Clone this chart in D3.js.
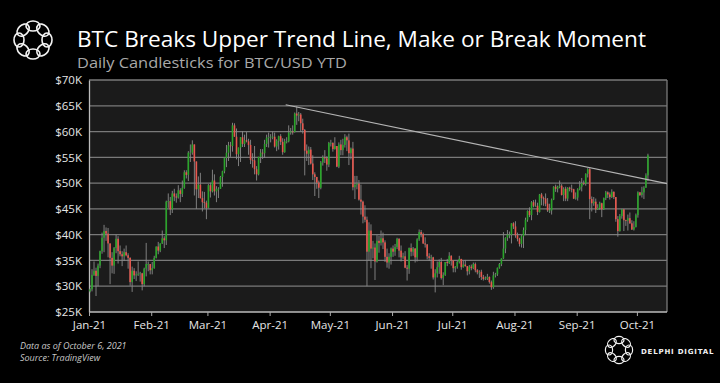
<!DOCTYPE html>
<html><head><meta charset="utf-8">
<script src="https://cdn.jsdelivr.net/npm/d3@7"></script>
<style>html,body{margin:0;padding:0;background:#000;}svg{display:block;}</style>
</head><body>
<script>
// ---- DATA (values in $K) ----
const startDate = "2021-01-01";
const open = [
29.0,29.4,32.2,33.0,32.0,34.0,36.8,39.4,40.7,40.2,38.3,35.5,34.0,37.4,39.2,36.8,36.2,35.8,36.6,36.0,35.5,30.8,33.0,32.1,32.3,32.4,32.5,30.4,33.4,34.3,34.3,
33.1,33.5,35.5,37.7,36.9,38.3,39.3,38.9,46.4,46.5,44.9,48.0,47.4,47.2,48.6,47.9,49.1,52.1,51.6,55.9,55.9,57.5,54.2,48.8,49.7,47.1,46.3,46.2,
45.2,49.6,48.4,50.5,48.4,48.9,48.9,51.2,52.3,54.9,55.9,57.3,57.2,61.2,59.0,55.6,56.9,58.9,57.6,58.3,58.1,57.4,54.5,54.4,52.7,51.7,55.1,55.9,55.8,57.6,58.8,
58.9,59.0,59.0,57.1,58.2,59.1,58.0,56.0,58.1,58.1,59.8,60.0,59.9,63.5,63.1,63.3,61.6,60.3,56.3,55.7,56.5,53.8,51.7,51.2,50.1,49.1,54.0,55.0,54.8,53.6,
57.8,57.8,56.6,57.2,53.2,57.5,56.4,57.4,58.9,58.3,55.8,56.7,49.2,49.7,49.9,46.8,46.4,43.5,42.9,36.7,40.8,37.3,37.5,34.8,38.8,38.4,39.3,38.5,35.7,34.6,35.7,
37.3,36.7,37.6,39.2,36.9,35.6,35.8,33.6,33.4,37.4,36.7,37.3,35.6,39.1,40.5,40.1,38.3,38.1,35.8,35.5,35.6,31.7,32.5,33.7,34.7,31.6,32.2,34.7,34.5,35.9,
35.0,33.5,33.8,34.7,35.3,33.7,34.2,33.9,32.9,33.8,33.5,34.3,33.1,32.7,32.8,31.8,31.4,31.5,31.8,30.8,29.8,32.1,32.3,33.6,34.3,35.4,37.3,39.4,40.0,40.0,42.2,
41.6,39.9,39.2,38.2,39.7,40.9,42.9,44.6,43.8,46.3,45.6,45.6,44.4,47.8,47.1,47.0,46.0,44.7,44.7,46.8,49.3,48.9,49.3,49.5,47.7,48.9,47.0,49.1,48.9,48.8,47.0,
47.2,48.8,49.3,50.0,49.9,51.8,52.7,46.9,46.1,46.4,44.9,45.2,46.1,44.9,47.1,48.2,47.8,47.3,48.3,47.3,43.0,40.7,43.6,44.9,42.8,42.7,43.2,42.2,41.0,41.5,
43.8,48.2,47.7,48.2,49.1,51.5];
const high = [
29.6,33.3,34.8,33.6,34.4,36.9,40.4,41.9,41.4,41.3,38.3,36.6,37.6,40.0,39.7,37.9,36.8,37.3,37.9,36.4,35.6,33.8,33.5,32.9,34.8,32.8,32.6,33.6,38.4,34.8,34.3,
34.7,35.9,37.7,38.6,38.3,40.8,39.7,46.6,48.0,47.3,48.5,48.9,48.0,49.6,49.0,50.5,52.5,52.5,56.2,57.5,58.3,57.5,54.2,51.3,52.0,48.4,48.3,46.6,
49.8,50.1,52.6,51.7,49.4,49.2,51.4,52.4,54.9,57.4,58.0,58.0,61.7,61.6,60.6,56.9,58.9,60.1,59.4,59.9,58.6,58.4,55.8,57.2,53.3,55.1,56.6,56.6,58.4,59.4,59.8,
59.5,60.0,59.8,58.5,59.2,59.5,58.7,58.6,58.9,61.2,60.7,61.2,63.7,64.9,63.8,63.6,62.5,60.5,57.5,57.1,57.0,55.4,52.1,51.2,50.5,54.3,55.4,56.4,55.2,58.0,
58.4,57.9,58.9,57.2,57.9,58.4,58.6,59.5,59.2,59.6,56.9,58.0,51.4,51.4,50.6,49.7,46.6,45.7,43.5,42.4,42.0,38.8,38.3,39.9,39.8,40.8,40.4,38.9,37.3,36.4,37.5,
37.9,38.2,39.4,39.3,37.9,36.5,36.8,34.1,37.5,38.3,37.6,37.4,39.3,41.0,40.9,40.4,39.5,38.2,36.4,36.1,35.7,33.3,34.8,35.2,35.5,32.7,34.7,35.3,36.6,36.0,
35.0,33.9,34.9,35.9,35.3,35.0,35.1,33.9,34.1,34.2,34.6,34.6,33.3,33.1,33.2,32.2,31.9,32.4,31.9,31.1,32.8,32.6,33.6,34.5,35.4,40.5,39.5,40.9,40.6,42.2,42.4,
42.6,40.4,39.4,39.9,41.4,43.3,44.7,45.3,46.5,46.7,46.8,46.2,47.9,48.1,47.4,48.0,47.1,46.0,47.0,49.4,49.7,49.5,50.5,49.8,49.2,49.3,49.2,49.3,49.7,48.9,48.2,
49.0,50.4,51.0,50.5,51.9,52.9,52.9,47.4,47.3,47.0,45.9,46.4,46.2,47.2,48.5,48.4,48.2,48.8,48.4,47.3,43.6,44.0,45.0,45.0,42.9,43.9,44.3,42.8,42.6,44.1,
48.4,48.3,49.3,49.4,51.9,55.7];
const low = [
28.8,29.0,32.0,28.1,30.0,33.5,36.3,36.6,38.8,35.6,30.4,32.5,32.4,36.4,34.4,35.8,33.9,34.9,35.8,33.4,30.1,28.9,31.4,31.0,32.0,30.9,29.2,30.0,31.9,32.9,32.3,
32.3,33.4,35.4,36.2,36.6,38.2,37.4,38.0,45.2,43.8,44.2,46.5,46.2,47.0,46.3,47.3,48.9,50.9,50.4,54.1,55.5,47.6,45.0,47.1,47.0,44.5,45.1,43.0,
45.1,47.2,48.2,47.6,46.3,47.1,48.9,49.3,51.9,53.1,54.3,55.1,56.1,59.0,54.6,53.3,54.1,57.0,57.0,57.9,55.5,53.7,53.0,51.7,50.5,51.5,53.9,54.7,54.9,57.0,56.9,
57.9,58.5,56.9,56.2,56.5,57.4,55.5,55.9,57.7,57.9,59.4,59.4,59.8,61.3,62.0,60.0,59.6,51.5,54.3,53.5,53.6,50.6,47.5,48.9,47.1,48.8,53.4,53.9,52.4,53.1,
57.1,56.1,56.5,53.1,52.9,55.4,55.4,56.9,56.2,53.5,54.6,48.6,46.9,48.8,46.6,43.9,42.2,42.4,30.0,35.0,33.5,35.4,31.2,34.6,36.5,37.9,37.2,34.7,33.6,33.4,34.2,
35.7,35.9,37.2,35.6,34.8,35.3,33.5,31.1,32.4,35.8,35.9,34.6,34.8,38.8,39.5,38.2,37.5,35.2,34.9,33.4,31.3,28.8,31.7,32.4,31.3,30.2,32.0,33.9,34.3,34.0,
32.7,32.7,33.4,34.4,33.2,33.6,33.8,32.1,32.3,33.1,33.3,32.7,32.3,31.6,31.2,31.1,31.2,31.2,30.5,29.3,29.5,31.7,32.0,33.4,33.9,35.3,36.4,38.8,39.3,38.3,41.1,
39.4,38.7,37.7,37.5,37.4,39.9,42.5,43.4,42.8,45.3,45.4,43.8,44.3,45.7,45.6,45.5,44.4,44.2,43.9,46.7,48.3,48.2,49.0,47.6,46.5,46.5,46.5,48.4,48.2,46.9,46.8,
46.6,48.6,48.4,49.6,49.5,51.1,43.0,44.5,45.6,44.2,44.8,44.8,43.4,44.8,46.7,47.1,46.8,47.1,46.9,42.5,39.6,40.6,43.1,40.7,41.7,40.8,42.1,40.9,40.8,41.4,
43.3,47.5,47.2,46.9,49.1,50.4];
const close = [
29.4,32.2,33.0,32.0,34.0,36.8,39.4,40.7,40.2,38.3,35.5,34.0,37.4,39.2,36.8,36.2,35.8,36.6,36.0,35.5,30.8,33.0,32.1,32.3,32.4,32.5,30.4,33.4,34.3,34.3,33.1,
33.5,35.5,37.7,36.9,38.3,39.3,38.9,46.4,46.5,44.9,48.0,47.4,47.2,48.6,47.9,49.1,52.1,51.6,55.9,55.9,57.5,54.2,48.8,49.7,47.1,46.3,46.2,45.2,
49.6,48.4,50.5,48.4,48.9,48.9,51.2,52.3,54.9,55.9,57.3,57.2,61.2,59.0,55.6,56.9,58.9,57.6,58.3,58.1,57.4,54.5,54.4,52.7,51.7,55.1,55.9,55.8,57.6,58.8,58.9,
59.0,59.0,57.1,58.2,59.1,58.0,56.0,58.1,58.1,59.8,60.0,59.9,63.5,63.1,63.3,61.6,60.3,56.3,55.7,56.5,53.8,51.7,51.2,50.1,49.1,54.0,55.0,54.8,53.6,57.8,
57.8,56.6,57.2,53.2,57.5,56.4,57.4,58.9,58.3,55.8,56.7,49.2,49.7,49.9,46.8,46.4,43.5,42.9,36.7,40.8,37.3,37.5,34.8,38.8,38.4,39.3,38.5,35.7,34.6,35.7,37.3,
36.7,37.6,39.2,36.9,35.6,35.8,33.6,33.4,37.4,36.7,37.3,35.6,39.1,40.5,40.1,38.3,38.1,35.8,35.5,35.6,31.7,32.5,33.7,34.7,31.6,32.2,34.7,34.5,35.9,35.0,
33.5,33.8,34.7,35.3,33.7,34.2,33.9,32.9,33.8,33.5,34.3,33.1,32.7,32.8,31.8,31.4,31.5,31.8,30.8,29.8,32.1,32.3,33.6,34.3,35.4,37.3,39.4,40.0,40.0,42.2,41.6,
39.9,39.2,38.2,39.7,40.9,42.9,44.6,43.8,46.3,45.6,45.6,44.4,47.8,47.1,47.0,46.0,44.7,44.7,46.8,49.3,48.9,49.3,49.5,47.7,48.9,47.0,49.1,48.9,48.8,47.0,47.2,
48.8,49.3,50.0,49.9,51.8,52.7,46.9,46.1,46.4,44.9,45.2,46.1,44.9,47.1,48.2,47.8,47.3,48.3,47.3,43.0,40.7,43.6,44.9,42.8,42.7,43.2,42.2,41.0,41.5,43.8,
48.2,47.7,48.2,49.1,51.5,55.4];
const trendDates = ["2021-04-09", "2021-10-16"];
const trendValues = [65.2, 49.9];
const yTicks = [25,30,35,40,45,50,55,60,65,70];
const xTickDates = ["2021-01-01","2021-02-01","2021-03-01","2021-04-01","2021-05-01","2021-06-01","2021-07-01","2021-08-01","2021-09-01","2021-10-01"];
const xTickLabels = ["Jan-21","Feb-21","Mar-21","Apr-21","May-21","Jun-21","Jul-21","Aug-21","Sep-21","Oct-21"];
const title = "BTC Breaks Upper Trend Line, Make or Break Moment";
const subtitle = "Daily Candlesticks for BTC/USD YTD";
const footnotes = ["Data as of October 6, 2021", "Source: TradingView"];
const brand = "DELPHI DIGITAL";

// ---- CHART ----
const W = 720, H = 383;
const parse = d3.utcParse("%Y-%m-%d");
const t0 = parse(startDate);
const dates = d3.utcDay.range(t0, d3.utcDay.offset(t0, close.length));
const rows = dates.map((d, i) => ({d, o: open[i], h: high[i], l: low[i], c: close[i]}));

const svg = d3.select("body").append("svg").attr("width", W).attr("height", H)
  .style("font-family", "'Open Sans', 'Noto Sans', sans-serif");
svg.append("rect").attr("width", W).attr("height", H).attr("fill", "#000");

const x = d3.scaleUtc().domain([parse("2021-01-01"), parse("2021-10-16")]).range([89, 667]);
const y = d3.scaleLinear().domain([25, 70]).range([312, 80]);

// plot bg
svg.append("rect").attr("x", x.range()[0]).attr("y", y(70))
  .attr("width", x.range()[1] - x.range()[0]).attr("height", y(25) - y(70))
  .attr("fill", "#1b1b1b");

// gridlines
svg.append("g").selectAll("line").data(yTicks.filter(v => v > 25)).join("line")
  .attr("x1", x.range()[0]).attr("x2", x.range()[1])
  .attr("y1", d => y(d)).attr("y2", d => y(d))
  .attr("stroke", "#7a7a7a").attr("stroke-width", 1.3);
// right border
svg.append("line").attr("x1", x.range()[1]).attr("x2", x.range()[1]).attr("y1", y(70)).attr("y2", y(25))
  .attr("stroke", "#7a7a7a").attr("stroke-width", 1.3);

// y axis
const yAxis = svg.append("g").attr("transform", `translate(${x.range()[0]},0)`)
  .call(d3.axisLeft(y).tickValues(yTicks).tickSize(0).tickPadding(7).tickFormat(v => `$${v}K`));
yAxis.select(".domain").attr("stroke", "#bbb").attr("stroke-width", 1.3);
yAxis.selectAll("text").attr("fill", "#e6e6e6").attr("font-size", 11.5).attr("font-family", "'Open Sans', sans-serif");

// x axis
const xAxis = svg.append("g").attr("transform", `translate(0,${y(25)})`)
  .call(d3.axisBottom(x).tickValues(xTickDates.map(parse)).tickSize(4).tickPadding(5)
    .tickFormat((d, i) => xTickLabels[i]));
xAxis.select(".domain").attr("stroke", "#bbb").attr("stroke-width", 1.3).attr("d", `M${x.range()[0]},0H${x.range()[1]}`);
xAxis.selectAll("line").attr("stroke", "#aaa");
xAxis.selectAll("text").attr("fill", "#e6e6e6").attr("font-size", 11.5).attr("font-family", "'Open Sans', sans-serif");

// candles
const cx = d => x(d3.utcHour.offset(d, 12));
const g = svg.append("g");
g.selectAll("line.wick").data(rows).join("line").attr("class", "wick")
  .attr("x1", r => cx(r.d)).attr("x2", r => cx(r.d))
  .attr("y1", r => y(r.h)).attr("y2", r => y(r.l))
  .attr("stroke", "#8a8a8a").attr("stroke-width", 0.9);
g.selectAll("rect.body").data(rows).join("rect").attr("class", "body")
  .attr("x", r => cx(r.d) - 0.8).attr("width", 1.6)
  .attr("y", r => y(Math.max(r.o, r.c)))
  .attr("height", r => Math.max(0.8, Math.abs(y(r.o) - y(r.c))))
  .attr("fill", r => r.c >= r.o ? "#2aa52a" : "#e8574e");

// trend line
svg.append("line")
  .attr("x1", x(parse(trendDates[0]))).attr("y1", y(trendValues[0]))
  .attr("x2", x(parse(trendDates[1]))).attr("y2", y(trendValues[1]))
  .attr("stroke", "#b5b5b5").attr("stroke-width", 1.1);

// logo helper
function logo(cxp, cyp, R, rx, ry, sw) {
  const lg = svg.append("g").attr("transform", `translate(${cxp},${cyp})`);
  d3.range(8).forEach(i => {
    const a = i * 45;
    lg.append("ellipse").attr("cx", 0).attr("cy", -R).attr("rx", rx).attr("ry", ry)
      .attr("transform", `rotate(${a})`)
      .attr("fill", "none").attr("stroke", "#f2f2f2").attr("stroke-width", sw);
  });
}
logo(33, 40, 14, 7, 5, 1.6);
logo(619, 350, 10, 5, 3.6, 1.2);

// titles
svg.append("text").attr("x", 77).attr("y", 47).text(title)
  .attr("fill", "#fff").attr("font-size", 21.5)
  .attr("textLength", 569).attr("lengthAdjust", "spacingAndGlyphs");
svg.append("text").attr("x", 77).attr("y", 68).text(subtitle)
  .attr("fill", "#a9a9a9").attr("font-size", 14.5)
  .attr("textLength", 270).attr("lengthAdjust", "spacingAndGlyphs");

// footnotes
svg.append("g").selectAll("text").data(footnotes).join("text")
  .attr("x", 20).attr("y", (d, i) => 349 + i * 12).text(d => d)
  .attr("fill", "#c8c8c8").attr("font-size", 9).attr("font-style", "italic");

// brand
svg.append("text").attr("x", 641).attr("y", 353.5).text(brand)
  .attr("fill", "#f2f2f2").attr("font-size", 7).attr("font-weight", "bold")
  .attr("letter-spacing", 0.8).attr("font-family", "'DejaVu Sans', sans-serif");
</script>
</body></html>
